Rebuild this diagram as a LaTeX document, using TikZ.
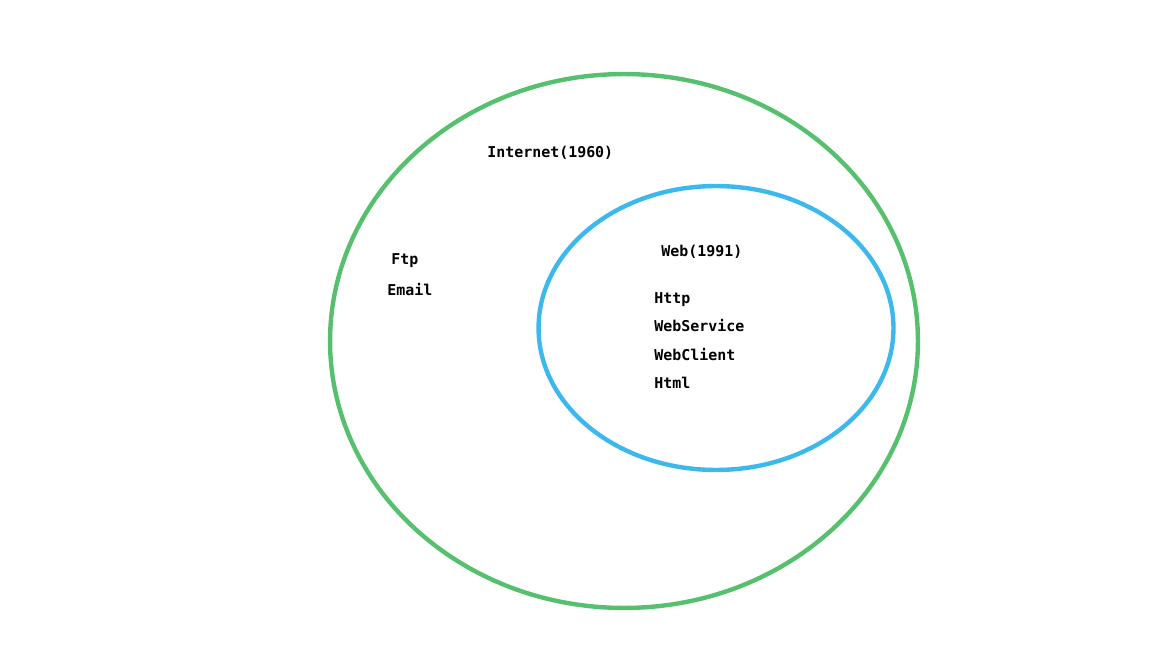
\documentclass[tikz,border=0pt]{standalone}
\usepackage{fontspec}
\setmonofont{DejaVu Sans Mono}
\usetikzlibrary{shapes.geometric,positioning}
\definecolor{netgreen}{RGB}{86,192,110}
\definecolor{webblue}{RGB}{60,184,236}
\tikzset{
    area/.style={ellipse, line width=2.5pt, inner sep=0pt},
    areaG/.style={area, draw=netgreen, minimum width=11.76cm, minimum height=10.68cm},
    areaB/.style={area, draw=webblue, minimum width=7.1cm, minimum height=5.68cm},
    label/.style={anchor=base west, inner sep=0pt, font=\ttfamily\bfseries\fontsize{8.5}{10}\selectfont},
}
\begin{document}
\begin{tikzpicture}[x=0.02cm, y=-0.02cm]
    \useasboundingbox (0,0) rectangle (1152,648);

    % Outer area
    \node[areaG] (net) at (624, 341) {};
    \node[label] (nettitle) at (487, 158) {Internet(1960)};
    \node[label] (ftp) at (391, 265) {Ftp};
    \node[label] (email) at (387, 296) {Email};

    % Inner area
    \node[areaB] (web) at (716, 328) {};
    \node[label] (webtitle) at (661, 257) {Web(1991)};
    \node[label] (http) at (654, 304) {Http};
    \node[label] (service) at (654, 332) {WebService};
    \node[label] (client) at (654, 360) {WebClient};
    \node[label] (html) at (654, 388) {Html};
\end{tikzpicture}
\end{document}
